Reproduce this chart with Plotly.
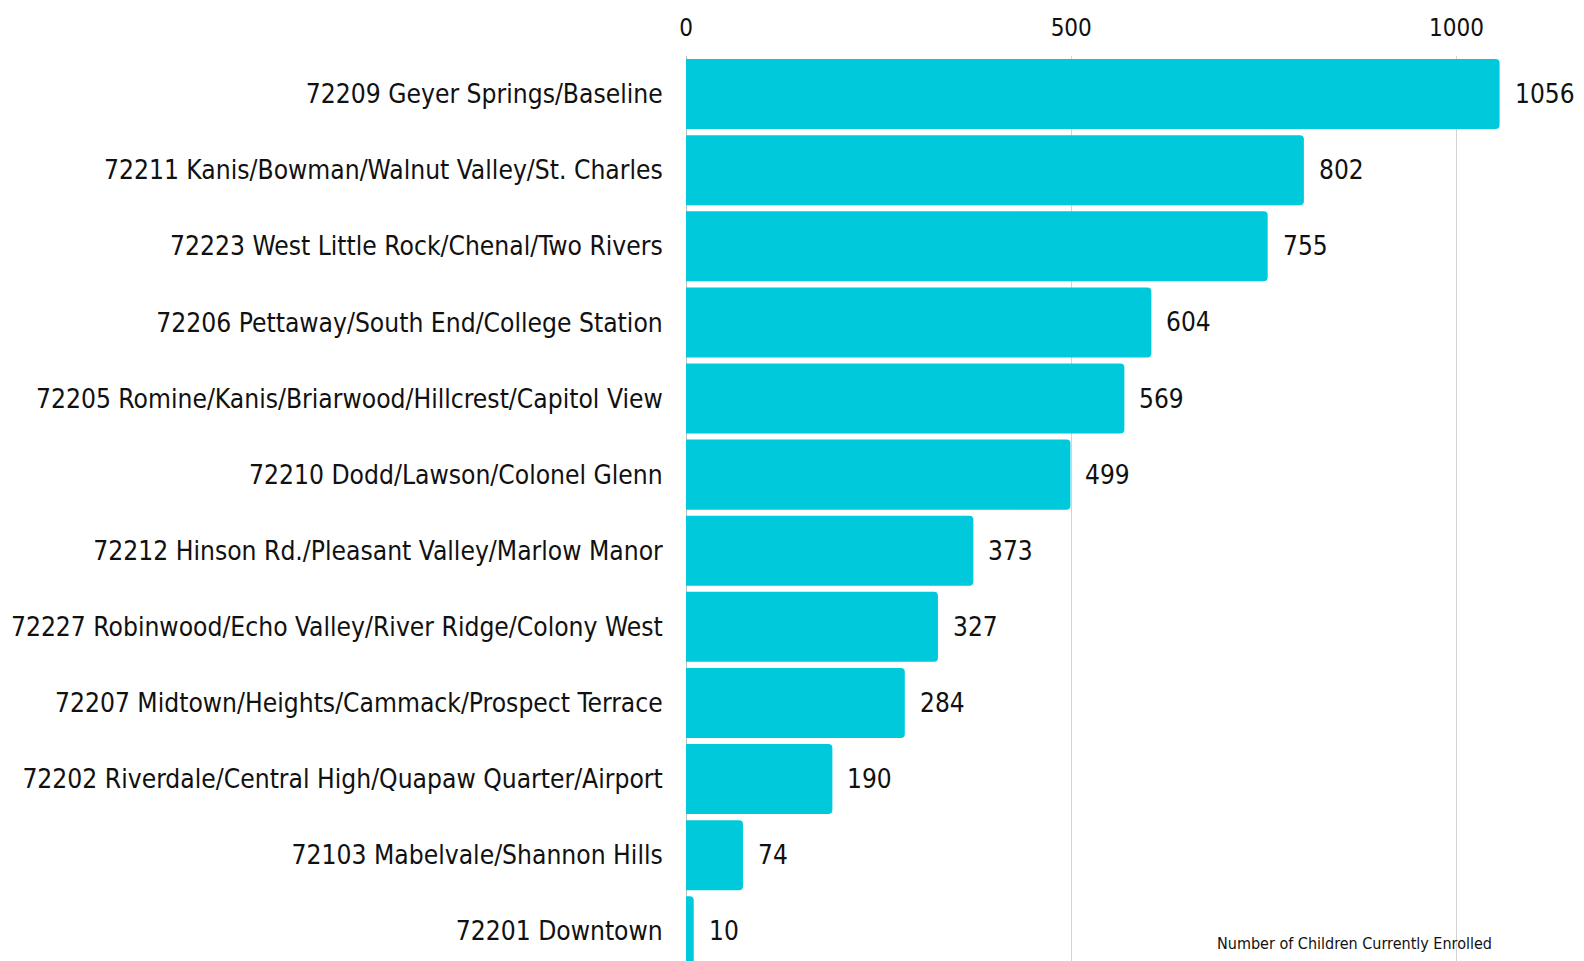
import plotly.graph_objects as go

categories = [
    "72209 Geyer Springs/Baseline",
    "72211 Kanis/Bowman/Walnut Valley/St. Charles",
    "72223 West Little Rock/Chenal/Two Rivers",
    "72206 Pettaway/South End/College Station",
    "72205 Romine/Kanis/Briarwood/Hillcrest/Capitol View",
    "72210 Dodd/Lawson/Colonel Glenn",
    "72212 Hinson Rd./Pleasant Valley/Marlow Manor",
    "72227 Robinwood/Echo Valley/River Ridge/Colony West",
    "72207 Midtown/Heights/Cammack/Prospect Terrace",
    "72202 Riverdale/Central High/Quapaw Quarter/Airport",
    "72103 Mabelvale/Shannon Hills",
    "72201 Downtown",
]
enrolled = [1056, 802, 755, 604, 569, 499, 373, 327, 284, 190, 74, 10]
tick_values = [0, 500, 1000]
axis_title = "Number of Children Currently Enrolled"

FONT = "DejaVu Sans Condensed, Liberation Sans Narrow, sans-serif"
BAR_COLOR = "#00C9DB"

# the page body adds an 8px margin, so the figure is drawn 8px smaller
W, H = 1576, 953
L, R, T, B = 678, 12, 48, 0
plot_w = W - L - R
plot_h = H - T - B

fig = go.Figure()
fig.add_trace(go.Bar(
    y=categories,
    x=enrolled,
    orientation="h",
    marker=dict(color=BAR_COLOR, line=dict(width=0)),
    hoverinfo="skip",
))

for c, v in zip(categories, enrolled):
    fig.add_annotation(
        x=v, y=c, xref="x", yref="y",
        text=str(v), showarrow=False,
        xanchor="left", yanchor="middle", xshift=13,
        font=dict(family=FONT, size=26, color="#111111"),
    )

fig.add_annotation(
    x=(1346 - L) / plot_w, y=(H - 935) / plot_h, xref="paper", yref="paper",
    text=axis_title, showarrow=False, xanchor="center", yanchor="middle",
    font=dict(family=FONT, size=16, color="#111111"),
)

fig.update_layout(
    width=W, height=H,
    margin=dict(l=L, r=R, t=T, b=B, pad=0),
    paper_bgcolor="white", plot_bgcolor="white",
    bargap=0.08,
    barcornerradius=4,
    showlegend=False,
    xaxis=dict(
        side="top", range=[0, 1150], tickvals=tick_values, automargin=False,
        showgrid=True, gridcolor="#D3D3D3", gridwidth=1,
        zeroline=True, zerolinecolor="#BBBBBB", zerolinewidth=1,
        ticks="outside", ticklen=9, tickcolor="rgba(0,0,0,0)",
        tickfont=dict(family=FONT, size=24, color="#111111"),
        showline=False,
    ),
    yaxis=dict(
        range=[11.39, -0.5], type="category", automargin=False,
        ticks="outside", ticklen=17, tickcolor="rgba(0,0,0,0)",
        tickfont=dict(family=FONT, size=26.2, color="#111111"),
        showgrid=False, showline=False, zeroline=False,
    ),
)

fig.write_html("out.html")
